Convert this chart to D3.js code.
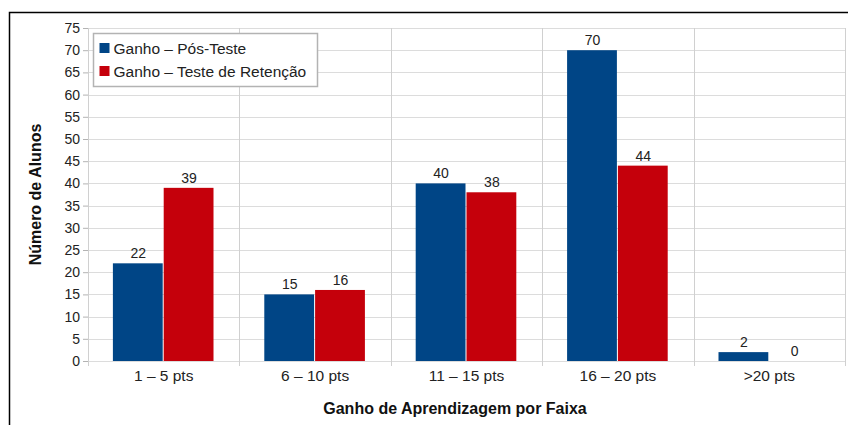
<!DOCTYPE html>
<html>
<head>
<meta charset="utf-8">
<script src="https://cdn.jsdelivr.net/npm/d3@7"></script>
<style>
  body { margin: 0; background: #fff; }
  svg { font-family: "Liberation Sans", Arial, sans-serif; }
</style>
</head>
<body>
<svg id="chart"></svg>
<script>
var categories = ["1 – 5 pts", "6 – 10 pts", "11 – 15 pts", "16 – 20 pts", ">20 pts"];
var seriesNames = ["Ganho – Pós-Teste", "Ganho – Teste de Retenção"];
var posTeste = [22, 15, 40, 70, 2];
var retencao = [39, 16, 38, 44, 0];
var yTicks = d3.range(0, 80, 5);

var colors = ["#004586", "#c5000b"];

var W = 848, H = 425;
var margin = {top: 28, right: 3, bottom: 64, left: 88};
var width = W - margin.left - margin.right;
var height = H - margin.top - margin.bottom;

var svg = d3.select("#chart").attr("width", W).attr("height", H);

// outer frame
svg.append("path")
  .attr("d", "M9.5," + H + "V12.5H" + W)
  .attr("fill", "none")
  .attr("stroke", "#000")
  .attr("stroke-width", 1.5);

var g = svg.append("g")
  .attr("transform", "translate(" + margin.left + "," + margin.top + ")");

var x = d3.scaleBand().domain(categories).range([0, width]).paddingInner(0).paddingOuter(0);
var xs = d3.scaleBand().domain([0, 1]).range([0, x.bandwidth()]).paddingOuter(0.49).paddingInner(0);
var y = d3.scaleLinear().domain([0, 75]).range([height, 0]);

// horizontal grid
g.selectAll(".hgrid").data(yTicks).enter().append("line")
  .attr("x1", 0).attr("x2", width)
  .attr("y1", function(d) { return Math.round(y(d)) + 0.5; })
  .attr("y2", function(d) { return Math.round(y(d)) + 0.5; })
  .attr("stroke", "#dcdcdc");

// vertical grid at category boundaries
var bounds = categories.map(function(c) { return x(c); }).concat([width]);
g.selectAll(".vgrid").data(bounds).enter().append("line")
  .attr("x1", function(d) { return Math.round(d) + 0.5; })
  .attr("x2", function(d) { return Math.round(d) + 0.5; })
  .attr("y1", 0).attr("y2", height + 5)
  .attr("stroke", "#d0d0d0");

// y axis
var yAxis = g.append("g")
  .call(d3.axisLeft(y).tickValues(yTicks).tickSize(5).tickPadding(3));
yAxis.select(".domain").remove();
yAxis.selectAll(".tick line").attr("stroke", "#b3b3b3");
yAxis.selectAll("text").attr("font-size", 14).attr("fill", "#222")
  .attr("font-family", "Liberation Sans, Arial, sans-serif");

// x axis labels
var xAxis = g.append("g")
  .attr("transform", "translate(0," + height + ")")
  .call(d3.axisBottom(x).tickSize(0).tickPadding(9));
xAxis.select(".domain").remove();
xAxis.selectAll("text").attr("font-size", 15.5).attr("fill", "#222")
  .attr("font-family", "Liberation Sans, Arial, sans-serif");

// bars
var series = [posTeste, retencao];
series.forEach(function(vals, si) {
  var grp = g.append("g");
  grp.selectAll("rect").data(vals).enter().append("rect")
    .attr("x", function(d, i) { return x(categories[i]) + xs(si); })
    .attr("width", xs.bandwidth() - 1)
    .attr("y", function(d) { return y(d); })
    .attr("height", function(d) { return y(0) - y(d); })
    .attr("fill", colors[si]);
  grp.selectAll("text").data(vals).enter().append("text")
    .attr("x", function(d, i) { return x(categories[i]) + xs(si) + xs.bandwidth() / 2; })
    .attr("y", function(d) { return y(d) - 5; })
    .attr("text-anchor", "middle")
    .attr("font-size", 14)
    .attr("fill", "#222")
    .text(function(d) { return d; });
});

// axis titles
svg.append("text")
  .attr("transform", "translate(41," + (margin.top + height / 2) + ") rotate(-90)")
  .attr("text-anchor", "middle")
  .attr("font-size", 16)
  .attr("font-weight", "bold")
  .attr("fill", "#111")
  .text("Número de Alunos");

svg.append("text")
  .attr("x", 455).attr("y", 414)
  .attr("text-anchor", "middle")
  .attr("font-size", 16)
  .attr("font-weight", "bold")
  .attr("fill", "#111")
  .text("Ganho de Aprendizagem por Faixa");

// legend
var legend = svg.append("g").attr("transform", "translate(93.5,33.5)");
legend.append("rect")
  .attr("width", 224).attr("height", 53)
  .attr("fill", "#fff")
  .attr("stroke", "#b3b3b3")
  .attr("stroke-width", 1.5);
seriesNames.forEach(function(name, i) {
  legend.append("rect")
    .attr("x", 6).attr("y", 9.5 + i * 23)
    .attr("width", 10).attr("height", 10)
    .attr("fill", colors[i]);
  legend.append("text")
    .attr("x", 20).attr("y", 20.5 + i * 23)
    .attr("font-size", 15.5)
    .attr("fill", "#222")
    .text(name);
});
</script>
</body>
</html>
